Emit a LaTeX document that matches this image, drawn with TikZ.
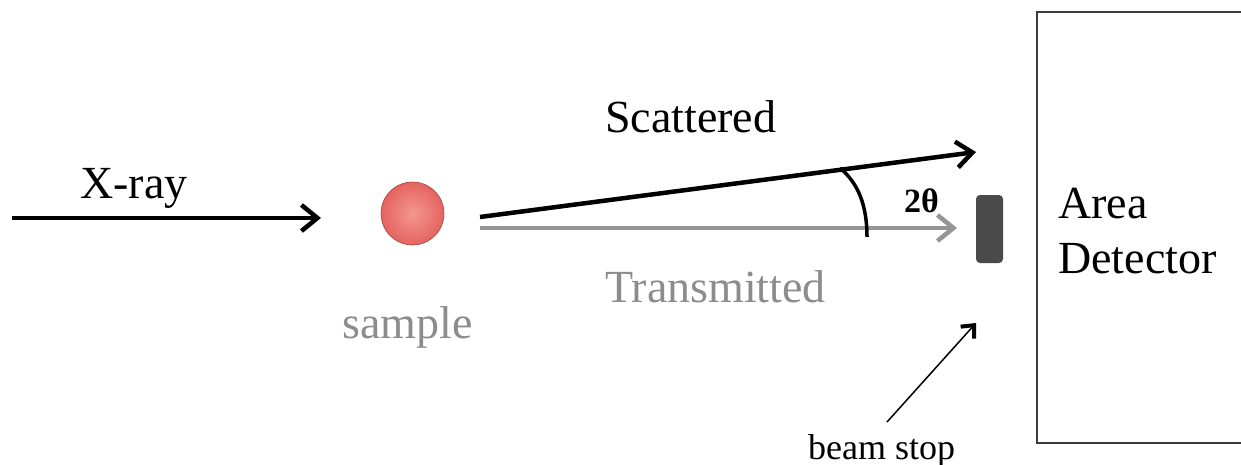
\documentclass[tikz,border=0pt]{standalone}
\usepackage{fontspec}
\setmainfont{Liberation Serif}
\usetikzlibrary{arrows.meta}
\definecolor{txtgray}{RGB}{140,140,140}
\definecolor{beamgray}{RGB}{150,150,150}
\definecolor{stopgray}{RGB}{74,74,74}
\definecolor{boxline}{RGB}{60,60,60}
\definecolor{ballin}{RGB}{245,150,145}
\definecolor{ballout}{RGB}{228,100,95}
\begin{document}
\begin{tikzpicture}[x=1pt,y=-1pt,
  lbl/.style={anchor=base west, inner sep=0pt, font=\fontsize{46}{50}\selectfont},
  beam/.style={line width=4.5pt, -{Straight Barb[length=16pt,width=26pt,line width=4.5pt]}},
]
\useasboundingbox (0,0) rectangle (1241,465);
\clip (0,0) rectangle (1241,465);
% coordinates
\coordinate (xs) at (12,218);
\coordinate (xe) at (321,218);
\coordinate (ss) at (480,217);
\coordinate (se) at (976,152);
\coordinate (ts) at (480,228);
\coordinate (te) at (957,228);
\coordinate (a1) at (840,168);
\coordinate (a2) at (867,237);
\coordinate (bs0) at (887,422);
\coordinate (bs1) at (976,323);
% sample ball
\node[circle, minimum size=63pt, inner sep=0pt, draw=ballout!70!black, line width=0.6pt,
      inner color=ballin, outer color=ballout] (sample) at (412.5,213.5) {};
% beam stop
\node[draw=none, fill=stopgray, rounded corners=4pt, minimum width=27pt, minimum height=68pt,
      inner sep=0pt] (stop) at (989.5,229) {};
% detector box (open on the right, beyond the frame)
\draw[boxline, line width=2pt] (1250,12) -- (1037,12) -- (1037,443) -- (1250,443);
% beams
\draw[beam] (xs) -- (xe);
\draw[beam] (ss) -- (se);
\draw[beam, beamgray] (ts) -- (te);
% angle arc
\draw[line width=3.5pt] (a1) .. controls (858,183) and (867,205) .. (a2);
% beam stop pointer
\draw[line width=1.5pt, -{Straight Barb[length=10pt,width=18pt,line width=4pt]}] (bs0) -- (bs1);
% labels
\node[lbl] (xray) at (80,198) {X-ray};
\node[lbl] (scat) at (605,133) {Scattered};
\node[lbl, text=txtgray] (trans) at (605,302) {Transmitted};
\node[lbl, text=txtgray] (samp) at (342,338) {sample};
\node[lbl] (area) at (1058,218) {Area};
\node[lbl] (det) at (1058,273) {Detector};
\node[anchor=base west, inner sep=0pt, font=\fontsize{34}{38}\selectfont\bfseries] (tt) at (904,212) {2θ};
\node[anchor=base west, inner sep=0pt, font=\fontsize{36}{40}\selectfont] (bst) at (808,459) {beam stop};
\end{tikzpicture}
\end{document}
